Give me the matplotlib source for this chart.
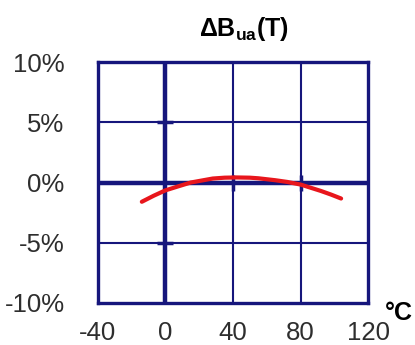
import matplotlib
matplotlib.use("Agg")
import matplotlib.pyplot as plt

# values
temp = [-14, -7, 0, 8, 15, 28, 35, 42, 50, 55, 65, 72, 80, 92, 98, 104]
dB = [-1.6, -1.1, -0.65, -0.3, 0.0, 0.33, 0.4, 0.42, 0.4, 0.35, 0.19, 0.05, -0.17, -0.7, -1.0, -1.33]
xticks = [-40, 0, 40, 80, 120]
yticks = [-10, -5, 0, 5, 10]
ylabels = ["-10%", "-5%", "0%", "5%", "10%"]

navy = "#16167c"
red = "#e8161c"

plt.rcParams['font.family'] = ['Liberation Sans', 'DejaVu Sans']
plt.rcParams['axes.unicode_minus'] = False
plt.rcParams['mathtext.fontset'] = 'custom'
plt.rcParams['mathtext.rm'] = 'Liberation Sans'
plt.rcParams['mathtext.bf'] = 'Liberation Sans:bold'

fig = plt.figure(figsize=(4.15, 3.45), dpi=100)
ax = fig.add_axes([0.236, 0.122, 0.651, 0.698])

ax.set_xlim(-40, 120)
ax.set_ylim(-10, 10)
ax.set_xticks(xticks)
ax.set_yticks(yticks)
ax.set_yticklabels(ylabels)
ax.tick_params(length=0, labelsize=18.5, labelcolor="#2e2e2e")
ax.tick_params(axis='x', pad=13)
ax.tick_params(axis='y', pad=24)

# grid
for x in xticks[1:-1]:
    ax.axvline(x, color=navy, lw=1.5, zorder=1)
for y in yticks[1:-1]:
    ax.axhline(y, color=navy, lw=1.5, zorder=1)
ax.axhline(0, color=navy, lw=3.2, zorder=1)
ax.axvline(0, color=navy, lw=3.2, zorder=1)
for s in ax.spines.values():
    s.set_color(navy)
    s.set_linewidth(2.4)

# small tick marks on the zero axes
ax.plot([0, 0], [5, -5], ls="none", marker="_", ms=12, mew=2.5, color=navy, zorder=2)
ax.plot([40, 80], [0, 0], ls="none", marker="|", ms=12, mew=2.5, color=navy, zorder=2)

ax.plot(temp, dB, color=red, lw=3, solid_capstyle="round", zorder=3)

fig.text(0.588, 0.915, r'$\mathbf{\Delta B_{ua}(T)}$', fontsize=18, ha="center", va="center")
fig.text(0.962, 0.093, "°C", fontsize=18, fontweight="bold", ha="center", va="center")

fig.savefig("out.png", dpi=100)
